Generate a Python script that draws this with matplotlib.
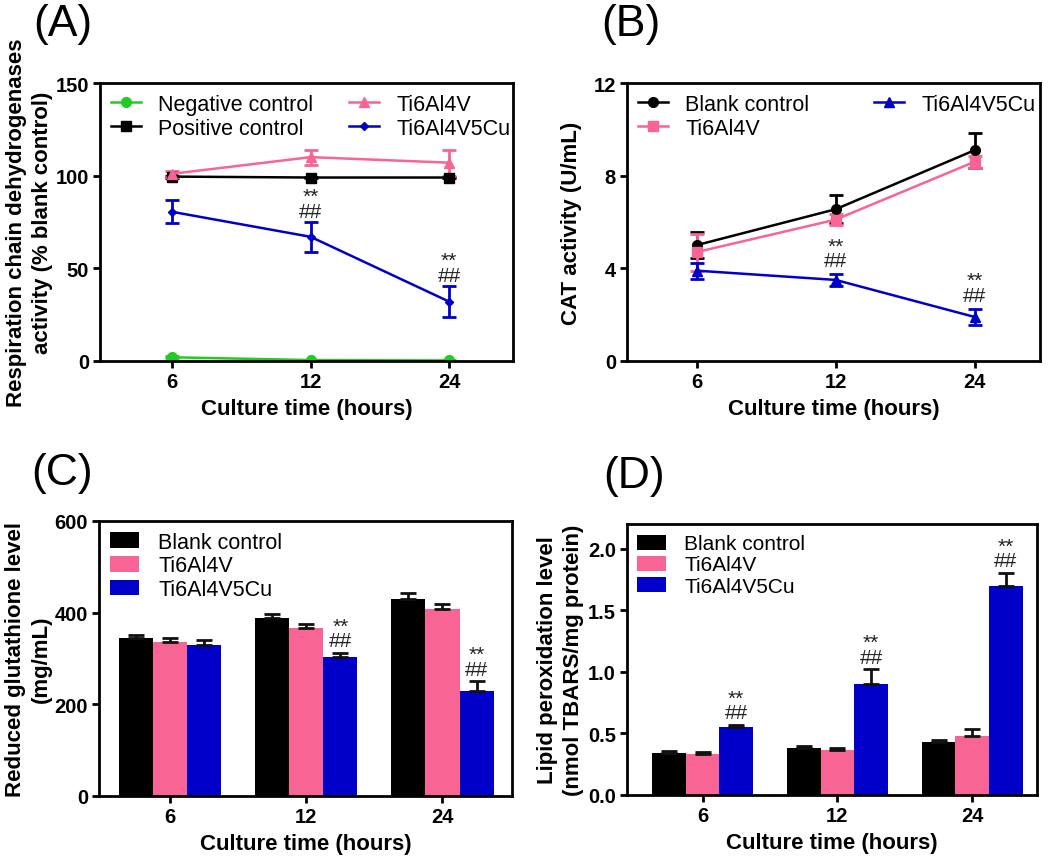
import matplotlib
matplotlib.use('Agg')
import matplotlib.pyplot as plt
import numpy as np

plt.rcParams['font.family'] = ['Liberation Sans', 'DejaVu Sans']

times = ['6', '12', '24']

# (A) respiration chain dehydrogenases, % blank control
resp_neg = [2, 0.5, 0.3]
resp_neg_err = [0.5, 0.3, 0.3]
resp_pos = [99.5, 99, 99]
resp_pos_err = [0.5, 0.5, 0.5]
resp_ti = [101, 110, 107]
resp_ti_err = [1.5, 4, 7]
resp_cu = [80.5, 67, 32]
resp_cu_err = [6.3, 8, 8.5]

# (B) CAT activity, U/mL
cat_blank = [5.0, 6.55, 9.1]
cat_blank_err = [0.55, 0.6, 0.75]
cat_ti = [4.7, 6.1, 8.6]
cat_ti_err = [0.8, 0.25, 0.25]
cat_cu = [3.9, 3.5, 1.9]
cat_cu_err = [0.35, 0.25, 0.35]

# (C) reduced glutathione, mg/mL
gsh_blank = [345, 388, 429]
gsh_blank_err = [7, 10, 14]
gsh_ti = [336, 367, 409]
gsh_ti_err = [9, 9, 9]
gsh_cu = [330, 303, 230]
gsh_cu_err = [10, 9, 20]

# (D) lipid peroxidation, nmol TBARS/mg protein
lpo_blank = [0.345, 0.385, 0.43]
lpo_blank_err = [0.015, 0.015, 0.02]
lpo_ti = [0.335, 0.365, 0.475]
lpo_ti_err = [0.012, 0.018, 0.06]
lpo_cu = [0.55, 0.90, 1.695]
lpo_cu_err = [0.02, 0.12, 0.105]

# which time points get "**/##" on the Cu series
sig_a = [1, 2]
sig_b = [1, 2]
sig_c = [1, 2]
sig_d = [0, 1, 2]

BLACK = '#000000'
PINK = '#F86494'
BLUE = '#0000C8'
GREEN = '#22CC22'

W, H = 1050, 862
fig = plt.figure(figsize=(W / 100, H / 100), dpi=100)


def box(l, t, r, b):
    return [l / W, 1 - b / H, (r - l) / W, (b - t) / H]


def style(ax, ylim, yticks, ylabel, xlim, pad=2):
    ax.set_xlim(*xlim)
    ax.set_ylim(*ylim)
    ax.set_yticks(yticks)
    ax.set_xticks(range(len(times)))
    ax.set_xticklabels(times)
    for s in ax.spines.values():
        s.set_linewidth(2)
    ax.tick_params(width=2, length=5, labelsize=14.5, direction='out', pad=3)
    for lab in ax.get_xticklabels() + ax.get_yticklabels():
        lab.set_fontweight('bold')
    ax.set_xlabel('Culture time (hours)', fontsize=16, fontweight='bold', labelpad=5)
    ax.set_ylabel(ylabel, fontsize=16, fontweight='bold', labelpad=pad, linespacing=1.3)


def marks(ax, xs, tops, pad):
    for x, t in zip(xs, tops):
        ax.annotate('**\n##', (x, t), xytext=(0, pad), textcoords='offset points',
                    ha='center', va='bottom', fontsize=15, color='#222222',
                    linespacing=0.7)


def line(ax, y, err, color, marker, ms):
    x = np.arange(len(y))
    c = ax.errorbar(x, y, yerr=err, color=color, marker=marker, ms=ms, lw=1.8,
                    elinewidth=2, capsize=5, capthick=2)
    return c[0]


# ---- (A)
ax = fig.add_axes(box(100, 84, 513, 362))
h = [line(ax, resp_neg, resp_neg_err, GREEN, 'o', 7),
     line(ax, resp_pos, resp_pos_err, BLACK, 's', 7),
     line(ax, resp_ti, resp_ti_err, PINK, '^', 7),
     line(ax, resp_cu, resp_cu_err, BLUE, 'D', 4)]
style(ax, (0, 150), [0, 50, 100, 150],
      'Respiration chain dehydrogenases\nactivity (% blank control)', (-0.52, 2.46))
marks(ax, sig_a, [resp_cu[i] + resp_cu_err[i] for i in sig_a], 1)
ax.legend(h, ['Negative control', 'Positive control', 'Ti6Al4V', 'Ti6Al4V5Cu'],
          loc='upper left', ncol=2, frameon=False, fontsize=15.5, handlelength=1.4,
          borderaxespad=0.2, borderpad=0.3, columnspacing=1.65, handletextpad=0.8,
          labelspacing=0.15)

# ---- (B)
ax = fig.add_axes(box(627, 84, 1040, 362))
h = [line(ax, cat_blank, cat_blank_err, BLACK, 'o', 7),
     line(ax, cat_ti, cat_ti_err, PINK, 's', 7),
     line(ax, cat_cu, cat_cu_err, BLUE, '^', 7)]
style(ax, (0, 12), [0, 4, 8, 12], 'CAT activity (U/mL)', (-0.5, 2.47), pad=8)
marks(ax, sig_b, [cat_cu[i] + cat_cu_err[i] for i in sig_b], 3)
ax.legend(h, ['Blank control', 'Ti6Al4V', 'Ti6Al4V5Cu'],
          loc='upper left', ncol=2, frameon=False, fontsize=15.5, handlelength=1.4,
          borderaxespad=0.2, borderpad=0.3, columnspacing=3.0, handletextpad=0.8,
          labelspacing=0.15)


def bars(ax, series, errs, labels, colors):
    x = np.arange(len(times))
    w = 0.25
    for k, (y, e, lab, c) in enumerate(zip(series, errs, labels, colors)):
        xs = x + (k - 1) * w
        ax.bar(xs, y, width=w, color=c, label=lab, zorder=2)
        ax.errorbar(xs, y, yerr=[np.zeros(len(e)), e], fmt='none', ecolor='#111111',
                    elinewidth=2, capsize=6, capthick=2, zorder=3)


labels3 = ['Blank control', 'Ti6Al4V', 'Ti6Al4V5Cu']
colors3 = [BLACK, PINK, BLUE]

# ---- (C)
ax = fig.add_axes(box(99, 522, 512, 797))
bars(ax, [gsh_blank, gsh_ti, gsh_cu], [gsh_blank_err, gsh_ti_err, gsh_cu_err], labels3, colors3)
style(ax, (0, 600), [0, 200, 400, 600], 'Reduced glutathione level\n(mg/mL)', (-0.52, 2.51))
marks(ax, [i + 0.25 for i in sig_c], [gsh_cu[i] + gsh_cu_err[i] for i in sig_c], 2)
ax.legend(loc='upper left', frameon=False, fontsize=15.5, handlelength=1.35, handleheight=0.75,
          borderaxespad=0.2, borderpad=0.3, handletextpad=0.9, labelspacing=0.12)

# ---- (D)
ax = fig.add_axes(box(627, 525, 1037, 796))
bars(ax, [lpo_blank, lpo_ti, lpo_cu], [lpo_blank_err, lpo_ti_err, lpo_cu_err], labels3, colors3)
style(ax, (0, 2.2), [0.0, 0.5, 1.0, 1.5, 2.0],
      'Lipid peroxidation level\n(nmol TBARS/mg protein)', (-0.56, 2.48), pad=3)
ax.yaxis.set_major_formatter(matplotlib.ticker.FormatStrFormatter('%.1f'))
for lab in ax.get_yticklabels():
    lab.set_fontweight('bold')
marks(ax, [i + 0.25 for i in sig_d], [lpo_cu[i] + lpo_cu_err[i] for i in sig_d], 2)
ax.legend(loc='upper left', frameon=False, fontsize=15, handlelength=1.35, handleheight=0.75,
          borderaxespad=0.2, borderpad=0.3, handletextpad=0.9, labelspacing=0.1)

# panel letters
for txt, x, y in [('(A)', 33, 4), ('(B)', 601, 4), ('(C)', 31, 453), ('(D)', 603, 456)]:
    fig.text(x / W, 1 - y / H, txt, fontsize=32, ha='left', va='top')

fig.savefig('out.png', dpi=100)
